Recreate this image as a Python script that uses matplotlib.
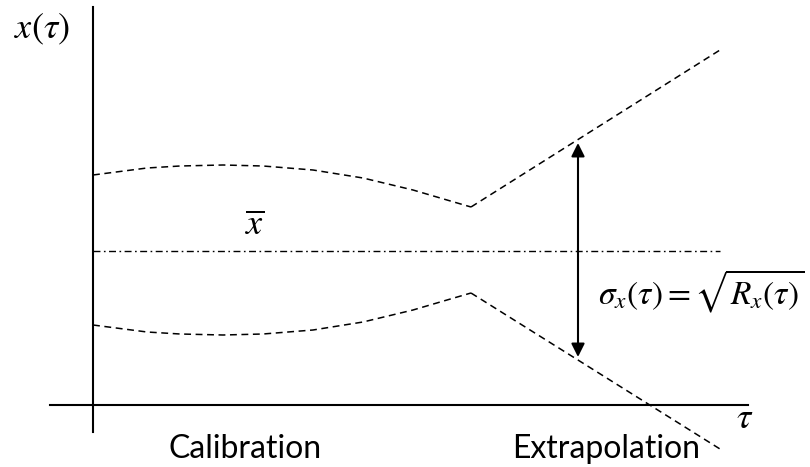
import matplotlib
matplotlib.use('Agg')
import matplotlib.pyplot as plt

# schematic values, origin at the axis crossing (tau right, x up)
tau_cal = [0, 54, 87, 130, 170, 220, 270, 320, 354, 378]
upper_cal = [230, 237, 239, 240, 239, 235, 227, 215, 205, 198]
lower_cal = [80, 73, 71, 70, 71, 75, 83, 95, 105, 112]
tau_ext = [378, 627]
upper_ext = [198, 355]
lower_ext = [112, -44]
mean_x = 154
mean_tau = [0, 627]
arrow_tau = 485
arrow_lo, arrow_hi = 48, 262

plt.rcParams['mathtext.fontset'] = 'stix'

fig = plt.figure(figsize=(8.1, 4.67), dpi=100)
ax = fig.add_axes([0, 0, 1, 1])
ax.set_xlim(-93, 717)
ax.set_ylim(-62, 405)
ax.axis('off')

# axes
ax.plot([-43, 655], [0, 0], color='black', lw=1.5)
ax.plot([0, 0], [-27, 398], color='black', lw=1.5)

dash = (0, (4.5, 3))
ax.plot(tau_cal, upper_cal, color='black', lw=1.1, linestyle=dash)
ax.plot(tau_cal, lower_cal, color='black', lw=1.1, linestyle=dash)
ax.plot(tau_ext, upper_ext, color='black', lw=1.1, linestyle=dash)
ax.plot(tau_ext, lower_ext, color='black', lw=1.1, linestyle=dash)
ax.plot(mean_tau, [mean_x, mean_x], color='black', lw=1.0,
        linestyle=(0, (5, 2.5, 1.2, 2.5)))

ax.annotate('', xy=(arrow_tau, arrow_hi), xytext=(arrow_tau, arrow_lo),
            arrowprops=dict(arrowstyle='<|-|>', color='black', lw=1.5,
                            mutation_scale=20, shrinkA=0, shrinkB=0))

ax.text(-51, 376, r'$x(\tau)$', fontsize=26, ha='center', va='center')
ax.text(162, 180, r'$\overline{x}$', fontsize=26, ha='center', va='center')
ax.text(652, -13, r'$\tau$', fontsize=26, ha='center', va='center')
ax.text(505, 114, r'$\sigma_x(\tau) = \sqrt{R_x(\tau)}$', fontsize=24,
        ha='left', va='center')

ax.text(152, -44, 'Calibration', fontsize=23, family='Lato',
        ha='center', va='center')
ax.text(513, -44, 'Extrapolation', fontsize=23, family='Lato',
        ha='center', va='center')

fig.savefig('out.png', dpi=100)
